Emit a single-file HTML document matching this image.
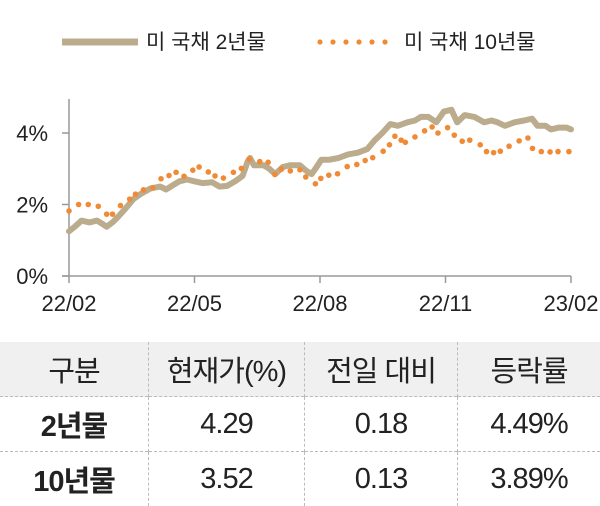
<!DOCTYPE html>
<html><head><meta charset="utf-8"><style>
body{margin:0;width:600px;height:504px;background:#fff;overflow:hidden;font-family:"Liberation Sans","Noto Sans CJK KR",sans-serif;color:#222}
svg{position:absolute;left:0;top:0}
table{position:absolute;left:0;top:342px;width:600px;border-collapse:collapse;font-family:"Liberation Sans","Noto Sans CJK KR",sans-serif}
td,th{height:54px;padding:0;text-align:center;font-size:29px;font-weight:normal;border-left:1px dashed #bbb;border-top:1px dashed #bbb;letter-spacing:-1px}
td:first-child,th:first-child{border-left:none}
th{background:#f0f0f0;border-top:none}
td.h{font-weight:bold}
</style></head><body>
<svg width="600" height="340">
<g id="legend">
<line x1="62" y1="42" x2="138" y2="42" stroke="#bcac8e" stroke-width="7"/>
<text x="146" y="49" font-size="21" fill="#222">미 국채 2년물</text>
<g fill="#f08a35">
<circle cx="320" cy="42" r="2.6"/><circle cx="333" cy="42" r="2.6"/><circle cx="346" cy="42" r="2.6"/><circle cx="359" cy="42" r="2.6"/><circle cx="372" cy="42" r="2.6"/><circle cx="385" cy="42" r="2.6"/></g>
<text x="404" y="49" font-size="21" fill="#222">미 국채 10년물</text>
</g>
<g id="axes"></g>
<g id="series"></g>
</svg>
<table>
<tr><th style="width:148px">구분</th><th style="width:155px">현재가(%)</th><th style="width:152px">전일 대비</th><th>등락률</th></tr>
<tr><td class="h">2년물</td><td>4.29</td><td>0.18</td><td>4.49%</td></tr>
<tr><td class="h">10년물</td><td>3.52</td><td>0.13</td><td>3.89%</td></tr>
</table>
<script>
const xTickLabels=["22/02","22/05","22/08","22/11","23/02"];
const xTickMonths=[0,3,6,9,12];
const yTicks=[0,2,4];
const t2y=[0,.16,.30,.49,.67,.81,.90,1.04,1.17,1.36,1.54,1.72,1.95,2.18,2.32,2.50,2.64,2.82,3.00,3.19,3.42,3.60,3.78,3.97,4.15,4.27,4.33,4.42,4.65,4.79,4.93,5.11,5.29,5.52,5.66,5.80,5.89,6.03,6.21,6.44,6.67,6.90,7.13,7.31,7.49,7.68,7.86,8.09,8.27,8.41,8.59,8.78,8.96,9.14,9.28,9.46,9.69,9.92,10.10,10.24,10.42,10.65,10.88,11.07,11.20,11.39,11.52,11.71,11.89,12];
const v2y=[1.25,1.4,1.55,1.5,1.55,1.45,1.38,1.5,1.65,1.9,2.15,2.3,2.45,2.5,2.42,2.55,2.65,2.7,2.65,2.6,2.62,2.5,2.52,2.65,2.8,3.2,3.3,3.1,3.1,3.0,2.85,3.05,3.1,3.1,2.95,2.85,3.0,3.25,3.25,3.3,3.4,3.45,3.55,3.8,4.0,4.25,4.2,4.3,4.35,4.45,4.45,4.3,4.6,4.65,4.3,4.5,4.45,4.3,4.35,4.3,4.2,4.3,4.35,4.4,4.2,4.2,4.1,4.15,4.15,4.1];
const t10y=[0,.23,.46,.70,.90,1.04,1.23,1.45,1.59,1.78,2.00,2.20,2.39,2.56,2.75,2.96,3.11,3.33,3.49,3.69,3.93,4.12,4.31,4.56,4.76,4.92,5.08,5.29,5.52,5.66,5.89,6.02,6.21,6.42,6.65,6.88,7.08,7.26,7.51,7.66,7.79,7.94,8.04,8.27,8.50,8.68,8.82,9.05,9.21,9.40,9.58,9.83,9.98,10.15,10.31,10.52,10.76,10.97,11.08,11.29,11.50,11.69,11.95];
const v10y=[1.82,2.0,2.0,1.95,1.73,1.73,1.97,2.15,2.29,2.41,2.47,2.72,2.81,2.9,2.79,2.96,3.05,2.91,2.8,2.74,2.9,3.01,3.27,3.2,3.18,2.84,2.99,2.94,2.97,2.77,2.58,2.73,2.82,2.86,3.06,3.12,3.23,3.31,3.49,3.67,3.91,3.8,3.74,3.89,4.06,4.17,4.0,4.15,3.94,3.77,3.8,3.67,3.48,3.45,3.49,3.63,3.78,3.86,3.57,3.48,3.47,3.48,3.48];
const NS="http://www.w3.org/2000/svg";
const X=m=>69+m*(571-69)/12;
const Y=v=>276-v*35.75;
function mk(tag,attrs,parent){const e=document.createElementNS(NS,tag);for(const k in attrs)e.setAttribute(k,attrs[k]);parent.appendChild(e);return e;}
const axes=document.getElementById('axes'),series=document.getElementById('series');
let e=mk('line',{x1:69,y1:99,x2:69,y2:276,stroke:'#999','stroke-width':1.5},axes);


e=mk('line',{x1:62,y1:276,x2:571,y2:276,stroke:'#999','stroke-width':1.5},axes);


yTicks.forEach(v=>{
 mk('line',{x1:62,y1:Y(v),x2:69,y2:Y(v),stroke:'#999','stroke-width':1.5},axes);
 const t=mk('text',{x:48,y:Y(v)+8,'font-size':22,fill:'#222','text-anchor':'end'},axes);t.textContent=v+'%';
 
 
});
xTickMonths.forEach((m,i)=>{
 mk('line',{x1:X(m),y1:276,x2:X(m),y2:283,stroke:'#999','stroke-width':1.5},axes);
 const t=mk('text',{x:X(m),y:311,'font-size':22,fill:'#222','text-anchor':'middle'},axes);t.textContent=xTickLabels[i];
 
 
});
const p=mk('polyline',{points:t2y.map((t,i)=>X(t).toFixed(1)+','+Y(v2y[i]).toFixed(1)).join(' '),fill:'none',stroke:'#bcac8e','stroke-width':6,'stroke-linejoin':'round','stroke-linecap':'round'},series);


t10y.forEach((t,i)=>{
 const c=mk('circle',{cx:X(t),cy:Y(v10y[i]),r:2.8,fill:'#f08a35'},series);
 
 
});
</script>
</body></html>
